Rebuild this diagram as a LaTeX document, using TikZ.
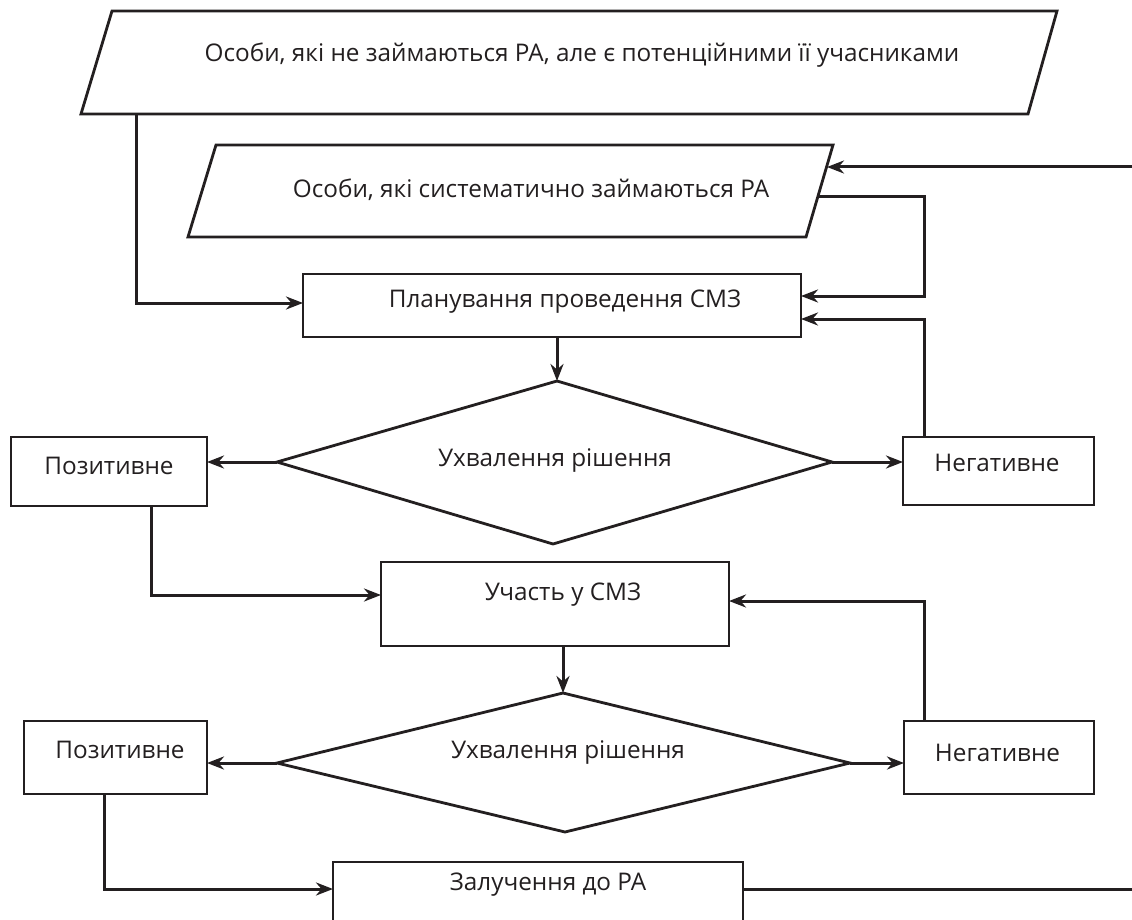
\documentclass[tikz,border=0pt]{standalone}
\usepackage{fontspec}
\setmainfont{Open Sans}
\usetikzlibrary{arrows.meta}
\definecolor{ink}{HTML}{231F20}
\begin{document}
\begin{tikzpicture}[x=1pt,y=-1pt,
  box/.style={draw=ink, line width=2.8pt, inner sep=0pt, outer sep=0pt},
  shapeline/.style={draw=ink, line width=2.8pt, line join=miter},
  lbl/.style={text=ink, inner sep=0pt, font=\fontsize{24.3}{29}\selectfont},
  conn/.style={draw=ink, line width=3pt, -{Stealth[length=17pt,width=13pt]}},
  plain/.style={draw=ink, line width=3pt}]
\useasboundingbox (0,0) rectangle (1132,920);
% parallelogram 1
\coordinate (p1a) at (112,11);
\coordinate (p1b) at (1057,11);
\coordinate (p1c) at (1028,114);
\coordinate (p1d) at (81,114);
\draw[shapeline] (p1a) -- (p1b) -- (p1c) -- (p1d) -- cycle;
\node[lbl] (t1) at (582,55) {Особи, які не займаються РА, але є потенційними її учасниками};
% parallelogram 2
\coordinate (p2a) at (216,145);
\coordinate (p2b) at (833,145);
\coordinate (p2c) at (806,237);
\coordinate (p2d) at (188,237);
\draw[shapeline] (p2a) -- (p2b) -- (p2c) -- (p2d) -- cycle;
\node[lbl] (t2) at (531,190) {Особи, які систематично займаються РА};
\coordinate (p2in) at (827,167);
\coordinate (p2out) at (818,197);
\coordinate (p1out) at (136,114);
\coordinate (inR) at (1132,167);
% planning box
\node[box, minimum width=498pt, minimum height=63pt] (plan) at (552,305.5) {};
\node[lbl] (t3) at (565,302) {Планування проведення СМЗ};
% diamond 1
\coordinate (d1t) at (557,381);
\coordinate (d1r) at (832,462);
\coordinate (d1b) at (553,544);
\coordinate (d1l) at (277,462);
\draw[shapeline] (d1t) -- (d1r) -- (d1b) -- (d1l) -- cycle;
\node[lbl] (t4) at (555,460) {Ухвалення рішення};
% outcome boxes 1
\node[box, minimum width=196pt, minimum height=69pt] (pos1) at (109,471.5) {};
\node[lbl] (t5) at (109,466) {Позитивне};
\node[box, minimum width=191pt, minimum height=68pt] (neg1) at (998.5,471) {};
\node[lbl] (t6) at (997,463) {Негативне};
% participation box
\node[box, minimum width=348pt, minimum height=84pt] (uch) at (555,604) {};
\node[lbl] (t7) at (563,595) {Участь у СМЗ};
% diamond 2
\coordinate (d2t) at (563,693);
\coordinate (d2r) at (850,763);
\coordinate (d2b) at (565,832);
\coordinate (d2l) at (277,763);
\draw[shapeline] (d2t) -- (d2r) -- (d2b) -- (d2l) -- cycle;
\node[lbl] (t8) at (568,752) {Ухвалення рішення};
% outcome boxes 2
\node[box, minimum width=183pt, minimum height=73pt] (pos2) at (115.5,757.5) {};
\node[lbl] (t9) at (120,750) {Позитивне};
\node[box, minimum width=190pt, minimum height=73pt] (neg2) at (999,757.5) {};
\node[lbl] (t10) at (997.5,753) {Негативне};
% involvement box
\node[box, minimum width=410pt, minimum height=78pt] (zal) at (538,901) {};
\node[lbl] (t11) at (548,885) {Залучення до РА};
\coordinate (outR) at (1132,889);
% bends
\coordinate (k1) at (924,197);
\coordinate (k2) at (924,296);
\coordinate (k3) at (136,303);
\coordinate (k4) at (924,319);
\coordinate (k5) at (151,595);
\coordinate (k6) at (924,601);
\coordinate (k7) at (104,889);
% connectors
\draw[conn] (inR) -- (p2in);
\draw[conn] (p2out) -- (k1) -- (k2) -- (plan.east |- k2);
\draw[conn] (p1out) -- (k3) -- (plan.west |- k3);
\draw[conn] (d1t |- plan.south) -- (d1t);
\draw[conn] (d1l) -- (pos1.east |- d1l);
\draw[conn] (d1r) -- (neg1.west |- d1r);
\draw[conn] (neg1.north -| k4) -- (k4) -- (plan.east |- k4);
\draw[conn] (pos1.south -| k5) -- (k5) -- (uch.west |- k5);
\draw[conn] (d2t |- uch.south) -- (d2t);
\draw[conn] (neg2.north -| k6) -- (k6) -- (uch.east |- k6);
\draw[conn] (d2l) -- (pos2.east |- d2l);
\draw[conn] (d2r) -- (neg2.west |- d2r);
\draw[conn] (pos2.south -| k7) -- (k7) -- (zal.west |- k7);
\draw[plain] (zal.east |- outR) -- (outR);
\end{tikzpicture}
\end{document}
